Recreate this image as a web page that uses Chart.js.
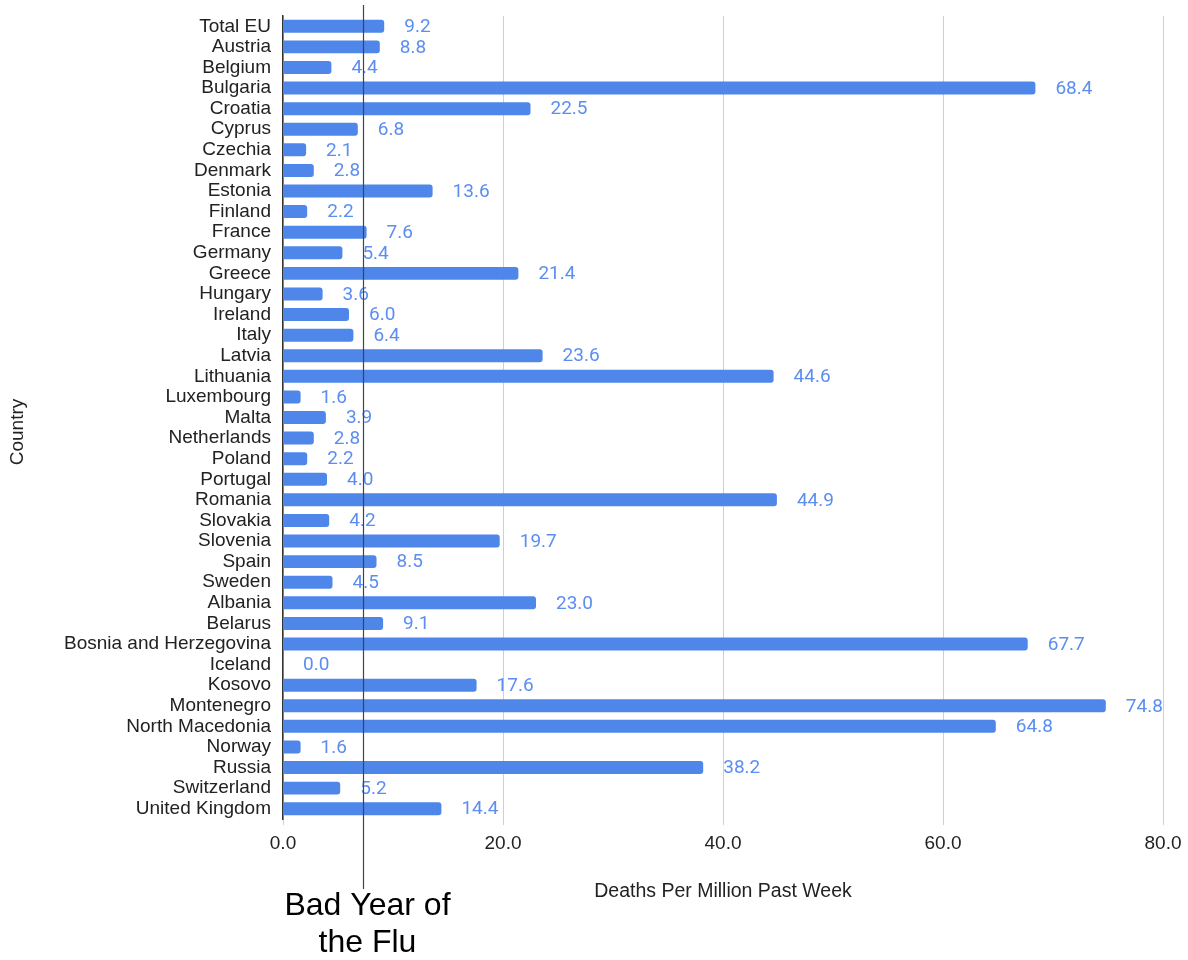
<!DOCTYPE html>
<html>
<head>
<meta charset="utf-8">
<script src="https://cdn.jsdelivr.net/npm/chart.js@4.4.1/dist/chart.umd.min.js"></script>
<style>
  html, body { margin: 0; padding: 0; background: #fff; }
  #wrap { width: 1188px; height: 960px; }
</style>
</head>
<body>
<div id="wrap"><canvas id="chart" width="1188" height="960"></canvas></div>
<script>
const countries = [
    "Total EU", "Austria", "Belgium", "Bulgaria", "Croatia", "Cyprus", "Czechia",
    "Denmark", "Estonia", "Finland", "France", "Germany", "Greece", "Hungary",
    "Ireland", "Italy", "Latvia", "Lithuania", "Luxembourg", "Malta", "Netherlands",
    "Poland", "Portugal", "Romania", "Slovakia", "Slovenia", "Spain", "Sweden",
    "Albania", "Belarus", "Bosnia and Herzegovina", "Iceland", "Kosovo", "Montenegro",
    "North Macedonia", "Norway", "Russia", "Switzerland", "United Kingdom"
];
const deathsPerMillion = [
    9.2, 8.8, 4.4, 68.4, 22.5, 6.8, 2.1,
    2.8, 13.6, 2.2, 7.6, 5.4, 21.4, 3.6,
    6.0, 6.4, 23.6, 44.6, 1.6, 3.9, 2.8,
    2.2, 4.0, 44.9, 4.2, 19.7, 8.5, 4.5,
    23.0, 9.1, 67.7, 0.0, 17.6, 74.8,
    64.8, 1.6, 38.2, 5.2, 14.4
];
const xTicks = [0, 20, 40, 60, 80];
const fluLevel = 7.3;
const fluLabel = ["Bad Year of", "the Flu"];
const yTitle = "Country";

const sans = "'Liberation Sans', Arial, sans-serif";

// ==== value labels, y title, flu reference line ====
const extras = {
    id: "extras",
    afterDatasetsDraw(chart) {
        const ctx = chart.ctx;
        const meta = chart.getDatasetMeta(0);
        ctx.save();
        ctx.font = "19px Roboto, 'Liberation Sans', sans-serif";
        ctx.fillStyle = "#5b8ef0";
        ctx.textBaseline = "middle";
        ctx.textAlign = "left";
        meta.data.forEach((bar, i) => {
            ctx.fillText(deathsPerMillion[i].toFixed(1), bar.x + 20, bar.y + 1);
        });

        // y axis title, sits a bit below the middle like the original
        ctx.save();
        ctx.translate(18, 432);
        ctx.rotate(-Math.PI / 2);
        ctx.textAlign = "center";
        ctx.fillStyle = "#222";
        ctx.font = "19px " + sans;
        ctx.fillText(yTitle, 0, 0);
        ctx.restore();

        const x = Math.round(chart.scales.x.getPixelForValue(fluLevel)) + 0.5;
        ctx.strokeStyle = "#444";
        ctx.lineWidth = 1.2;
        ctx.beginPath();
        ctx.moveTo(x, 5);
        ctx.lineTo(x, 889);
        ctx.stroke();

        ctx.fillStyle = "#000";
        ctx.textAlign = "center";
        ctx.font = "32px " + sans;
        ctx.fillText(fluLabel[0], x + 4, 906);
        ctx.fillText(fluLabel[1], x + 4, 943);
        ctx.restore();
    }
};

new Chart(document.getElementById("chart"), {
    type: "bar",
    data: {
        labels: countries,
        datasets: [{
            label: "Deaths Per Million Past Week",
            data: deathsPerMillion,
            backgroundColor: "#4e86ea",
            borderRadius: 3,
            borderSkipped: "start",
            barPercentage: 0.63,
            categoryPercentage: 1
        }]
    },
    options: {
        indexAxis: "y",
        responsive: false,
        animation: false,
        layout: { padding: { top: 16, right: 25, bottom: 57, left: 0 } },
        plugins: { legend: { display: false }, tooltip: { enabled: false } },
        scales: {
            x: {
                min: 0,
                max: 80,
                afterBuildTicks: s => { s.ticks = xTicks.map(v => ({ value: v })); },
                afterFit: s => { s.height = 84; s.paddingLeft = 0; s.paddingRight = 0; },
                grid: { color: "#cfcfcf", lineWidth: 1, tickLength: 6, tickColor: "#cfcfcf" },
                border: { display: false },
                ticks: {
                    padding: 7,
                    color: "#222",
                    font: { family: sans, size: 19 },
                    callback: v => Number(v).toFixed(1)
                },
                title: {
                    display: true,
                    text: "Deaths Per Million Past Week",
                    color: "#222",
                    font: { family: sans, size: 19.5 },
                    padding: { top: 30, bottom: 0 }
                }
            },
            y: {
                afterFit: s => { s.width = 283; s.paddingTop = 0; s.paddingBottom = 0; },
                grid: { display: false, drawTicks: false },
                border: { display: true, color: "#333", width: 1.5 },
                ticks: {
                    padding: 12,
                    autoSkip: false,
                    color: "#222",
                    font: { family: sans, size: 19 }
                }
            }
        }
    },
    plugins: [extras]
});
</script>
</body>
</html>
